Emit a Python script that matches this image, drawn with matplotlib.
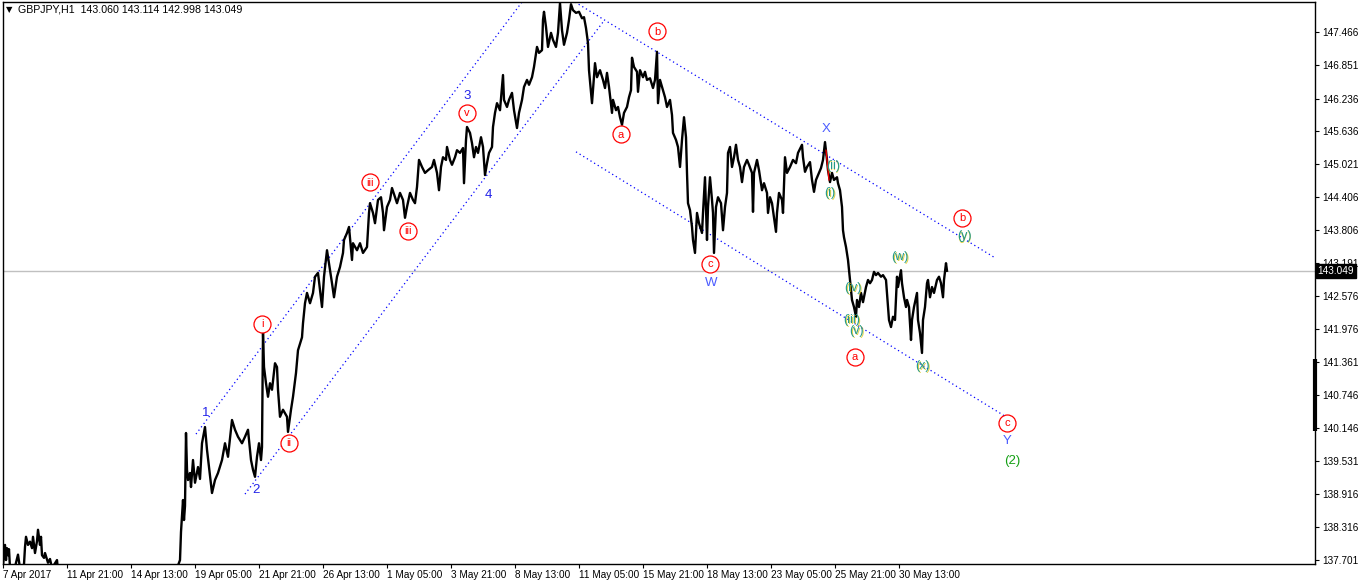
import matplotlib
matplotlib.use('Agg')
import matplotlib.pyplot as plt

plt.rcParams['font.family'] = ['Liberation Sans', 'DejaVu Sans']

# GBPJPY H1 - hourly bars, one pixel per bar (bar number = position in the window)
bar = [3,5,6,7,8,9,10,14,18,20,24,25,26,28,30,32,33,35,37,38,40,41,42,44,45,48,50,52,57,58,
       70,90,110,130,150,170,176,179,180,181,183,184,185,186,187,188,190,191,193,195,198,200,
       202,205,207,209,212,215,218,222,225,228,232,235,238,242,245,248,251,253,255,257,259,261,262,
       263,264,266,268,270,272,275,277,278,280,283,287,288,291,293,296,298,302,303,305,307,310,313,
       315,318,320,322,324,327,329,332,334,337,340,343,344,347,349,352,353,357,360,363,367,369,
       370,373,375,378,381,383,384,387,390,392,395,397,400,403,405,407,410,413,415,417,419,422,
       425,428,432,434,437,439,441,443,446,447,450,452,455,457,460,463,464,466,467,470,472,474,
       476,478,481,483,485,487,489,492,493,495,497,500,503,504,507,509,512,514,517,519,522,524,
       527,529,532,534,537,539,542,543,544,546,548,551,553,556,558,560,562,564,567,569,571,573,
       576,579,582,584,586,588,589,591,592,595,597,600,603,605,607,609,612,613,616,618,620,622,
       624,627,629,631,632,634,637,638,640,643,645,647,650,653,655,657,658,660,662,665,667,670,
       672,673,676,678,680,682,684,686,687,688,690,692,693,695,697,699,702,703,705,707,708,710,
       712,713,714,716,718,721,723,725,727,728,730,732,734,736,738,740,742,744,747,749,752,753,
       754,757,759,762,764,767,768,770,772,774,776,777,779,782,783,785,787,790,793,796,798,802,
       803,805,807,810,812,814,816,818,821,823,825,827,828,830,832,834,837,838,840,842,843,844,
       846,848,849,851,852,854,856,857,859,861,863,866,868,870,872,874,876,878,881,883,886,887,
       889,891,893,895,897,898,901,902,904,906,907,909,911,912,914,917,918,920,922,923,925,927,
       928,930,932,934,937,939,941,943,944,946,947]
price = [137.60,137.98,137.70,137.92,137.79,137.90,137.55,137.50,137.80,137.55,137.62,137.94,138.13,137.98,138.04,137.92,138.13,137.83,138.05,138.26,137.98,138.13,137.79,137.74,137.83,137.65,137.72,137.55,137.70,137.50,
         137.30,137.10,137.20,137.00,137.20,137.40,137.50,137.65,137.70,138.22,138.81,138.44,138.70,140.05,139.37,139.18,139.31,139.05,139.55,139.13,139.42,139.20,
         139.86,140.16,139.74,139.42,138.94,139.18,139.31,139.55,139.86,139.61,140.29,140.11,139.98,139.86,139.98,140.11,139.55,139.37,139.24,139.61,139.86,139.55,139.79,
         141.90,141.27,140.97,140.72,140.97,140.85,141.34,141.27,140.85,140.35,140.48,140.35,140.07,140.48,140.72,141.16,141.58,141.82,142.08,142.45,142.64,142.45,142.64,
         142.94,143.01,142.69,142.38,142.94,143.43,143.19,142.82,142.56,142.94,143.12,143.38,143.62,143.75,143.86,143.25,143.56,143.43,143.56,143.38,143.49,144.12,
         144.30,144.12,143.93,144.36,144.41,144.12,143.80,144.23,144.36,144.58,144.41,144.30,144.49,144.36,144.03,144.23,144.49,144.36,144.30,144.60,145.10,144.97,
         144.86,144.91,144.97,145.10,144.86,144.54,144.97,145.15,145.10,145.34,145.10,145.01,145.15,145.28,145.23,145.32,144.67,145.47,145.71,145.60,145.41,145.15,
         145.34,145.23,145.52,145.34,144.82,145.04,145.23,145.34,145.71,145.97,146.15,146.02,146.67,146.21,146.08,146.21,146.34,146.02,145.69,145.97,146.21,146.45,
         146.58,146.49,146.63,146.82,147.19,147.08,147.13,147.69,147.84,147.56,147.19,147.45,147.32,147.19,147.45,148.00,147.50,147.23,147.45,147.69,147.98,147.87,
         147.82,147.84,147.72,147.74,147.54,147.26,146.76,146.34,146.15,146.89,146.63,146.76,146.58,146.43,146.71,146.45,145.97,146.21,146.02,146.08,145.89,145.75,
         145.97,146.08,146.26,146.39,146.99,146.82,146.73,146.36,146.76,146.63,146.73,146.58,146.61,146.43,146.58,147.10,146.15,146.58,146.45,146.26,146.08,146.21,
         145.93,145.60,145.47,145.34,144.97,145.47,145.89,145.52,144.86,144.30,144.17,143.86,143.62,143.38,144.12,143.93,143.75,144.12,144.78,143.62,144.23,144.78,
         144.36,144.12,143.38,144.23,144.41,144.30,143.80,144.23,144.49,145.23,145.34,144.97,145.15,145.38,145.10,144.97,144.69,144.97,145.10,145.01,144.86,144.14,
         144.86,145.10,144.91,144.54,144.67,144.49,144.12,144.41,144.30,144.04,143.77,144.12,144.49,144.36,144.12,145.15,144.86,144.97,145.10,145.04,145.23,145.38,
         145.15,144.88,144.97,145.06,144.73,144.51,144.73,144.82,144.95,145.10,145.43,145.10,144.91,144.69,144.86,144.73,144.78,144.67,144.54,144.23,143.80,143.67,
         143.49,143.25,143.06,142.69,142.51,142.38,142.20,142.51,142.38,142.64,142.47,142.75,142.88,142.82,142.88,143.03,142.97,143.01,142.94,142.97,142.88,142.64,
         142.14,142.01,142.20,142.14,142.94,142.75,143.06,142.82,142.56,142.38,142.51,142.38,141.77,142.14,142.38,142.64,142.14,141.90,141.53,142.14,142.38,142.82,
         142.88,142.56,142.75,142.64,142.88,142.94,142.82,142.56,142.88,143.19,143.05]

last_price = 143.049

tick_bars = [3,67,131,195,259,323,387,451,515,579,643,707,771,835,899]
tick_dates = ['7 Apr 2017','11 Apr 21:00','14 Apr 13:00','19 Apr 05:00','21 Apr 21:00',
              '26 Apr 13:00','1 May 05:00','3 May 21:00','8 May 13:00','11 May 05:00',
              '15 May 21:00','18 May 13:00','23 May 05:00','25 May 21:00','30 May 13:00']
price_ticks = [147.466,146.851,146.236,145.636,145.021,144.406,143.806,143.191,142.576,
               141.976,141.361,140.746,140.146,139.531,138.916,138.316,137.701]

# wave labels
red_text = ['i','ii','iii','iii','v','a','b','c','a','b','c']
red_bar = [262,289,370,408,467,621,657,710,855,962,1007]
red_price = [142.07,139.87,144.69,143.79,145.97,145.58,147.48,143.18,141.46,144.03,140.24]

blue_text = ['1','2','3','4','W','X','Y']
blue_bar = [206,256,467,488,711,826,1007]
blue_price = [140.42,138.99,146.28,144.45,142.82,145.67,139.90]

minor_text = ['(i)','(ii)','(iii)','(iv)','(v)','(w)','(x)','(y)']
minor_bar = [830,833,852,853,857,900,923,964]
minor_price = [144.49,144.99,142.14,142.73,141.94,143.31,141.29,143.69]

# channel lines: (bar0, price0, bar1, price1)
channels = [(196,140.03,522,148.02),
            (245,138.92,603,147.65),
            (575,148.02,995,143.29),
            (576,145.25,1005,140.36)]

fig = plt.figure(figsize=(13.58,5.84), dpi=100)
ax = fig.add_axes([2.5/1358, 20/584, 1312.5/1358, 562/584])
ax.set_xlim(2.5,1315)
ax.set_ylim(137.627,148.021)

ax.axhline(last_price, color='#c0c0c0', lw=1, zorder=1)
ax.plot(bar, price, color='black', lw=1.7, zorder=3)

for b0,p0,b1,p1 in channels:
    ax.plot([b0,b1],[p0,p1], color='#0000ff', lw=0.9, dashes=(1,2.4), zorder=2)
ax.plot([826,829],[145.28,144.73], color='red', lw=0.9, zorder=4)

ax.scatter(red_bar, red_price, s=150, facecolors='white', edgecolors='red', linewidths=0.9, zorder=5)
for t,b,p in zip(red_text, red_bar, red_price):
    ax.text(b, p-0.01, t, color='red', fontsize=8, ha='center', va='center', zorder=6)

for t,b,p in zip(blue_text, blue_bar, blue_price):
    c = '#2323e8' if t.isdigit() else '#4b5cff'
    ax.text(b, p, t, color=c, fontsize=9.5, ha='center', va='center', zorder=6)
ax.text(1012, 139.53, '(2)', color='#14a014', fontsize=9.5, ha='center', va='center', zorder=6)

for t,b,p in zip(minor_text, minor_bar, minor_price):
    ax.text(b+0.6, p-0.015, t, color='#d8c000', alpha=0.7, fontsize=9, ha='center', va='center', zorder=6)
    ax.text(b, p, t, color='#22998a', fontsize=9, ha='center', va='center', zorder=7)

# axes styling like the terminal
for s in ax.spines.values():
    s.set_linewidth(1)
ax.yaxis.tick_right()
ax.set_yticks(price_ticks)
ax.set_yticklabels(['%.3f' % v for v in price_ticks])
ax.set_xticks(tick_bars)
ax.set_xticklabels(tick_dates)
for lab in ax.get_xticklabels():
    lab.set_ha('left')
ax.tick_params(axis='x', direction='out', length=3, width=0.8, labelsize=7.2, pad=1)
ax.tick_params(axis='y', direction='out', length=3, width=0.8, labelsize=7.2, pad=2)

# current price box and marker on the price scale
ax.text(1.002, last_price, '%.3f' % last_price, transform=ax.get_yaxis_transform(),
        color='white', fontsize=7.2, ha='left', va='center',
        bbox=dict(boxstyle='square,pad=0.2', facecolor='black', edgecolor='black'), zorder=10, clip_on=False)
ax.plot([1315,1315],[141.42,140.09], color='black', lw=3, solid_capstyle='butt', clip_on=False, zorder=9)

fig.text(9/1358, 1-10/584, '▼', fontsize=6, va='center', ha='center', family='DejaVu Sans')
fig.text(18/1358, 1-10/584, 'GBPJPY,H1  143.060 143.114 142.998 143.049', fontsize=7.7, va='center', ha='left')

fig.savefig('out.png', dpi=100)
